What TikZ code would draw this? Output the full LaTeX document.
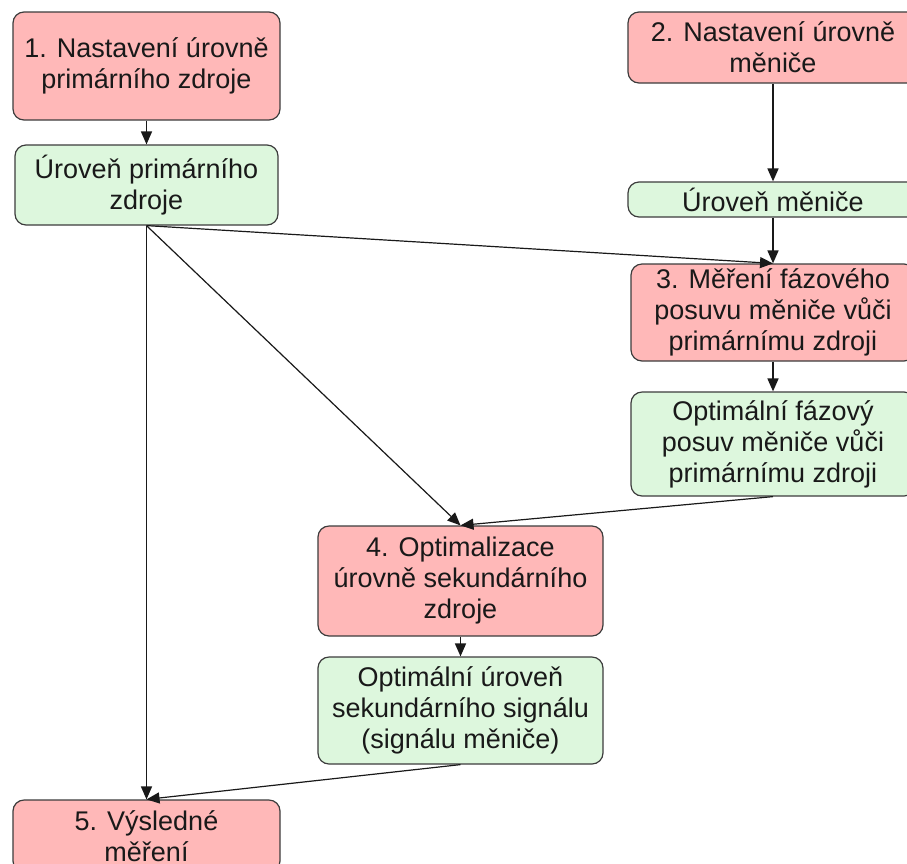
\documentclass[tikz,border=0pt]{standalone}
\usepackage{fontspec}
\setmainfont{Liberation Sans}
\usetikzlibrary{arrows.meta}
\definecolor{redfill}{RGB}{255,184,184}
\definecolor{greenfill}{RGB}{221,247,221}
\definecolor{edgecol}{RGB}{60,60,60}
\definecolor{txt}{RGB}{25,25,25}
\tikzset{
  boxbase/.style={draw=edgecol, line width=1.2pt, rounded corners=11pt, inner sep=0pt,
    align=center, text=txt, font=\fontsize{27}{31}\selectfont},
  redbox/.style={boxbase, fill=redfill},
  greenbox/.style={boxbase, fill=greenfill},
  arr/.style={draw=black!90, line width=1.6pt, -{Triangle[length=13pt,width=11pt]}},
  thinarr/.style={draw=black!90, line width=1.2pt, -{Triangle[length=13pt,width=11pt]}}
}
\begin{document}
\begin{tikzpicture}[x=1pt,y=-1pt]
\useasboundingbox (0,0) rectangle (907,863);
\clip (0,0) rectangle (907,863);
\node[redbox, minimum width=267pt, minimum height=108pt] (b1) at (146.5,66) {1. Nastavení úrovně\\primárního zdroje};
\node[greenbox, minimum width=263pt, minimum height=80pt] (g1) at (146.5,185) {Úroveň primárního\\zdroje};
\node[redbox, minimum width=290pt, minimum height=71pt] (b2) at (773,47.5) {2. Nastavení úrovně\\měniče};
\node[greenbox, minimum width=290pt, minimum height=35pt] (g2) at (773,199.5) {Úroveň měniče};
\node[redbox, minimum width=284pt, minimum height=97pt] (b3) at (773,312.5) {3. Měření fázového\\posuvu měniče vůči\\primárnímu zdroji};
\node[greenbox, minimum width=284pt, minimum height=104pt] (g3) at (773,444) {Optimální fázový\\posuv měniče vůči\\primárnímu zdroji};
\node[redbox, minimum width=285pt, minimum height=110pt] (b4) at (460.5,581) {4. Optimalizace\\úrovně sekundárního\\zdroje};
\node[greenbox, minimum width=285pt, minimum height=107pt] (g4) at (460.5,710.5) {Optimální úroveň\\sekundárního signálu\\(signálu měniče)};
\node[redbox, minimum width=267pt, minimum height=72pt] (b5) at (146.5,836) {5. Výsledné\\měření};

\draw[arr] (b1.south) -- (g1.north);
\draw[arr] (b2.south) -- (g2.north);
\draw[arr] (g2.south) -- (b3.north);
\draw[thinarr] (g1.south) -- (b3.north);
\draw[thinarr] (g1.south) -- (b4.north);
\draw[arr] (g1.south) -- (b5.north);
\draw[arr] (b3.south) -- (g3.north);
\draw[thinarr] (g3.south) -- (b4.north);
\draw[arr] (b4.south) -- (g4.north);
\draw[thinarr] (g4.south) -- (b5.north);
\end{tikzpicture}
\end{document}
